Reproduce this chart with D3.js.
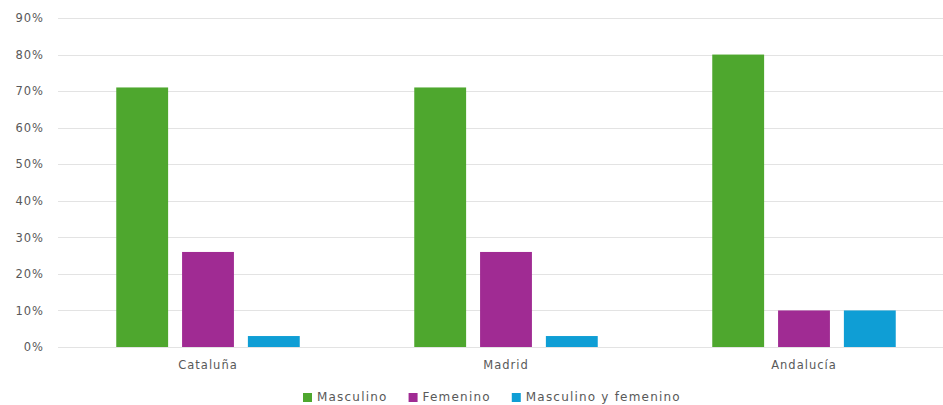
<!DOCTYPE html>
<html>
<head>
<meta charset="utf-8">
<script src="https://cdn.jsdelivr.net/npm/d3@7"></script>
<style>
  html, body { margin: 0; padding: 0; background: #ffffff; }
  svg { display: block; }
  text { font-family: "DejaVu Sans", "Noto Sans", sans-serif; fill: #595959; letter-spacing: 1px; }
</style>
</head>
<body>
<svg id="chart" width="943" height="405"></svg>
<script>
// Regions compared
const categories = ["Cataluña", "Madrid", "Andalucía"];
// Series: share of each gender option per region (%)
const seriesNames = ["Masculino", "Femenino", "Masculino y femenino"];
const masculino = [71, 71, 80];
const femenino = [26, 26, 10];
const ambos = [3, 3, 10];
const seriesColors = ["#4ea72e", "#a02b93", "#0f9ed5"];
const yTicks = [0, 10, 20, 30, 40, 50, 60, 70, 80, 90];

const values = [masculino, femenino, ambos];

const svg = d3.select("#chart");
const W = 943, H = 405;
const plot = { left: 59, right: 953, top: 18, bottom: 347 };

const x0 = d3.scaleBand()
  .domain(categories)
  .range([plot.left, plot.right]);

const x1 = d3.scaleBand()
  .domain(seriesNames)
  .range([0, x0.bandwidth()])
  .paddingInner(0.212)
  .paddingOuter(0.87);

const y = d3.scaleLinear()
  .domain([0, 90])
  .range([plot.bottom, plot.top]);

// Horizontal gridlines
svg.append("g")
  .selectAll("line")
  .data(yTicks)
  .join("line")
  .attr("x1", 58)
  .attr("x2", W)
  .attr("y1", d => Math.round(y(d)) + 0.5)
  .attr("y2", d => Math.round(y(d)) + 0.5)
  .attr("stroke", "#e3e3e3")
  .attr("stroke-width", 1);

// Y axis labels
const yAxis = d3.axisLeft(y)
  .tickValues(yTicks)
  .tickFormat(d => d + "%")
  .tickSize(0)
  .tickPadding(0);
const gy = svg.append("g")
  .attr("transform", "translate(44,0)")
  .call(yAxis);
gy.select(".domain").remove();
gy.selectAll("text")
  .attr("font-size", 11.5)
  .attr("font-family", "\"DejaVu Sans\", sans-serif")
  .attr("fill", "#595959");

// Bars
const groups = svg.append("g")
  .selectAll("g")
  .data(categories)
  .join("g")
  .attr("transform", d => `translate(${x0(d)},0)`);

groups.selectAll("rect")
  .data((c, ci) => seriesNames.map((s, si) => ({ s, si, v: values[si][ci] })))
  .join("rect")
  .attr("x", d => x1(d.s))
  .attr("width", x1.bandwidth())
  .attr("y", d => y(d.v))
  .attr("height", d => y(0) - y(d.v))
  .attr("fill", d => seriesColors[d.si]);

// Category axis labels
const xAxis = d3.axisBottom(x0).tickSize(0).tickPadding(0);
const gx = svg.append("g")
  .attr("transform", `translate(0,${y(0)})`)
  .call(xAxis);
gx.select(".domain").remove();
gx.selectAll("text")
  .attr("y", 22)
  .attr("dy", 0)
  .attr("font-size", 11.5)
  .attr("font-family", "\"DejaVu Sans\", sans-serif")
  .attr("fill", "#595959");

// Legend
const legend = svg.append("g").attr("transform", "translate(0,397)");
let lx = 303;
seriesNames.forEach((name, i) => {
  legend.append("rect")
    .attr("x", lx)
    .attr("y", -4)
    .attr("width", 9)
    .attr("height", 9)
    .attr("fill", seriesColors[i]);
  const t = legend.append("text")
    .attr("x", lx + 14)
    .attr("y", 0)
    .attr("dy", "0.35em")
    .attr("font-size", 12)
    .style("letter-spacing", "1.2px")
    .text(name);
  lx += 14 + t.node().getComputedTextLength() + 21;
});
</script>
</body>
</html>
